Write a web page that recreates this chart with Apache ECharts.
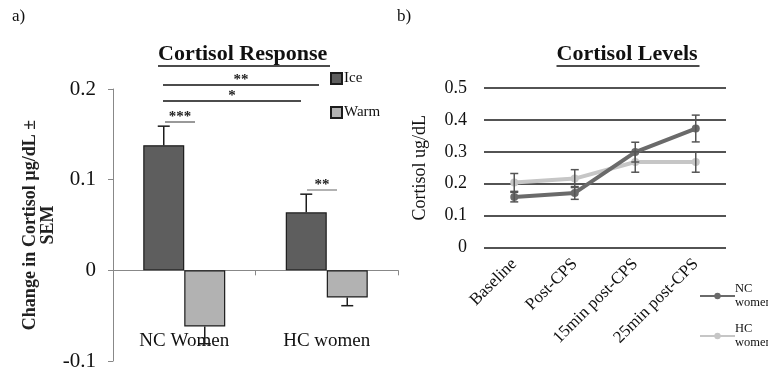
<!DOCTYPE html>
<html>
<head>
<meta charset="utf-8">
<script src="https://cdn.jsdelivr.net/npm/echarts@6/dist/echarts.min.js"></script>
<style>
  html, body { margin: 0; padding: 0; background: #fff; }
  #chart { width: 768px; height: 376px; }
</style>
</head>
<body>
<div id="chart"></div>
<script>
// panel a) change in cortisol
const groups = ['NC Women', 'HC women'];
const iceValues = [0.138, 0.064];
const iceErrors = [0.021, 0.020];
const warmValues = [-0.062, -0.030];
const warmErrors = [0.019, 0.009];

// panel b) cortisol levels
const timepoints = ['Baseline', 'Post-CPS', '15min post-CPS', '25min post-CPS'];
const ncValues = [0.158, 0.171, 0.299, 0.373];
const ncErrors = [0.015, 0.020, 0.031, 0.042];
const hcValues = [0.204, 0.216, 0.268, 0.268];
const hcErrors = [0.028, 0.028, 0.032, 0.032];

const SERIF = '"Liberation Serif", "Times New Roman", serif';
const BAR_W = 41;

const el = document.getElementById('chart');
const chart = echarts.init(el);

// error bars: [x, value, err, pixel offset, bothSides]
function errorBars(gridIdx, rows, color, cap) {
  return {
    type: 'custom',
    xAxisIndex: gridIdx,
    yAxisIndex: gridIdx,
    z: 5,
    silent: true,
    data: rows,
    renderItem: (params, api) => {
      const x = api.value(0), v = api.value(1), e = api.value(2), off = api.value(3), both = api.value(4);
      const hi = both ? v + e : (v >= 0 ? v + e : v);
      const lo = both ? v - e : (v >= 0 ? v : v - e);
      const p1 = api.coord([x, hi]);
      const p2 = api.coord([x, lo]);
      const cx = p1[0] + off;
      const style = { stroke: color, lineWidth: 1.5 };
      const kids = [
        { type: 'line', shape: { x1: cx, y1: p1[1], x2: cx, y2: p2[1] }, style }
      ];
      const capYs = both ? [p1[1], p2[1]] : [v >= 0 ? p1[1] : p2[1]];
      capYs.forEach(y => kids.push({ type: 'line', shape: { x1: cx - cap, y1: y, x2: cx + cap, y2: y }, style }));
      return { type: 'group', children: kids };
    }
  };
}

const leftErr = [];
groups.forEach((g, i) => {
  leftErr.push([i, iceValues[i], iceErrors[i], -BAR_W / 2, 0]);
  leftErr.push([i, warmValues[i], warmErrors[i], BAR_W / 2, 0]);
});
const rightErr = [];
timepoints.forEach((t, i) => {
  rightErr.push([i, ncValues[i], ncErrors[i], 0, 1]);
  rightErr.push([i, hcValues[i], hcErrors[i], 0, 1]);
});

function heading(text, cx, cy, w) {
  return [
    { type: 'text', left: cx - w / 2, top: cy - 12, style: { text, font: 'bold 22px ' + SERIF, fill: '#111' } },
    { type: 'line', shape: { x1: cx - w / 2, y1: cy + 11, x2: cx + w / 2, y2: cy + 11 }, style: { stroke: '#111', lineWidth: 1.5 } }
  ];
}

function sig(text, x1, x2, y, stroke) {
  return [
    { type: 'line', shape: { x1, y1: y, x2, y2: y }, style: { stroke, lineWidth: 1.5 } },
    { type: 'text', x: (x1 + x2) / 2, y: y + 3, style: { text, font: 'bold 15px ' + SERIF, fill: '#222', textAlign: 'center', textVerticalAlign: 'bottom' } }
  ];
}

chart.setOption({
  animation: false,
  textStyle: { fontFamily: SERIF },
  grid: [
    { left: 113, top: 89, width: 285, height: 272, outerBoundsMode: 'none' },
    { left: 484, top: 88, right: 42, height: 159.5, outerBoundsMode: 'none' }
  ],
  xAxis: [
    {
      type: 'category', gridIndex: 0, data: groups,
      axisLine: { onZero: true, lineStyle: { color: '#888', width: 1 } },
      axisTick: { show: true, length: 5, lineStyle: { color: '#888' } },
      axisLabel: { color: '#111', fontSize: 19, fontFamily: SERIF, margin: -29 }
    },
    {
      type: 'category', gridIndex: 1, data: timepoints,
      axisLine: { show: false }, axisTick: { show: false },
      axisLabel: { color: '#111', fontSize: 17, fontFamily: SERIF, rotate: 45, margin: 14, interval: 0 }
    }
  ],
  yAxis: [
    {
      type: 'value', gridIndex: 0, min: -0.1, max: 0.2, interval: 0.1,
      name: 'Change in Cortisol µg/dL ±\nSEM', nameLocation: 'middle', nameGap: 56,
      nameTextStyle: { fontSize: 18, fontWeight: 'bold', fontFamily: SERIF, color: '#222', lineHeight: 18 },
      axisLine: { show: true, lineStyle: { color: '#888', width: 1 } },
      axisTick: { show: true, length: 5, lineStyle: { color: '#888' } },
      splitLine: { show: false },
      axisLabel: { color: '#111', fontSize: 21, fontFamily: SERIF, margin: 17, formatter: v => (Math.round(v * 10) / 10).toString() }
    },
    {
      type: 'value', gridIndex: 1, min: 0, max: 0.5, interval: 0.1,
      name: 'Cortisol ug/dL', nameLocation: 'middle', nameGap: 55,
      nameTextStyle: { fontSize: 18, fontFamily: SERIF, color: '#111' },
      axisLine: { show: false }, axisTick: { show: false },
      splitLine: { lineStyle: { color: '#1a1a1a', width: 1.5 } },
      axisLabel: { color: '#111', fontSize: 18, fontFamily: SERIF, margin: 17, formatter: v => (Math.round(v * 10) / 10).toString() }
    }
  ],
  legend: [
    {
      data: ['Ice', 'Warm'], orient: 'vertical', left: 325, top: 66,
      itemWidth: 11, itemHeight: 11, itemGap: 19, icon: 'rect',
      textStyle: { fontSize: 15, fontFamily: SERIF, color: '#111', padding: [0, 0, 0, -3] }
    },
    {
      data: ['NC women', 'HC women'], orient: 'vertical', left: 694, top: 270, height: 100,
      itemWidth: 35, itemHeight: 8, itemGap: -2,
      formatter: name => name.replace(' ', '\n'),
      textStyle: { fontSize: 12.5, fontFamily: SERIF, color: '#111', lineHeight: 14, padding: [14, 0, 0, -5] }
    }
  ],
  series: [
    {
      name: 'Ice', type: 'bar', xAxisIndex: 0, yAxisIndex: 0, data: iceValues,
      barWidth: BAR_W, barGap: '0%',
      itemStyle: { color: '#5e5e5e', borderColor: '#1c1c1c', borderWidth: 1.2 }
    },
    {
      name: 'Warm', type: 'bar', xAxisIndex: 0, yAxisIndex: 0, data: warmValues,
      barWidth: BAR_W, barGap: '0%',
      itemStyle: { color: '#b2b2b2', borderColor: '#1c1c1c', borderWidth: 1.2 }
    },
    errorBars(0, leftErr, '#1c1c1c', 6),
    {
      name: 'NC women', type: 'line', xAxisIndex: 1, yAxisIndex: 1, data: ncValues,
      symbol: 'circle', symbolSize: 8, z: 4,
      lineStyle: { color: '#6a6a6a', width: 4 }, itemStyle: { color: '#6a6a6a' }
    },
    {
      name: 'HC women', type: 'line', xAxisIndex: 1, yAxisIndex: 1, data: hcValues,
      symbol: 'circle', symbolSize: 8, z: 3,
      lineStyle: { color: '#c6c6c6', width: 4 }, itemStyle: { color: '#c6c6c6' }
    },
    errorBars(1, rightErr, '#555', 4)
  ],
  graphic: [
    { type: 'text', left: 12, top: 8, style: { text: 'a)', font: '17px ' + SERIF, fill: '#111' } },
    { type: 'text', left: 397, top: 8, style: { text: 'b)', font: '17px ' + SERIF, fill: '#111' } },
    ...heading('Cortisol Response', 244, 55, 172),
    ...heading('Cortisol Levels', 628, 55, 143),
    ...sig('**', 163, 319, 85, '#111'),
    ...sig('*', 163, 301, 101, '#111'),
    ...sig('***', 165, 195, 122, '#777'),
    ...sig('**', 307, 337, 190, '#999')
  ]
});
</script>
</body>
</html>
